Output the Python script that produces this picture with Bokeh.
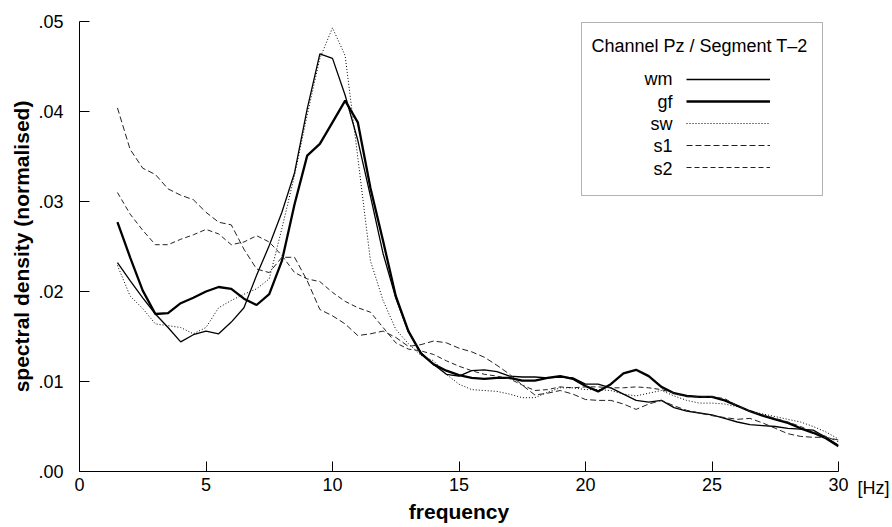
from bokeh.plotting import figure
from bokeh.models import (Legend, LegendItem, Label, BoxAnnotation, LinearAxis,
                          CustomJSTickFormatter, FixedTicker, Range1d)
from bokeh.embed import file_html
from bokeh.resources import INLINE

freq = [1.5, 2.0, 2.5, 3.0, 3.5, 4.0, 4.5, 5.0, 5.5, 6.0, 6.5, 7.0, 7.5, 8.0, 8.5,
        9.0, 9.5, 10.0, 10.5, 11.0, 11.5, 12.0, 12.5, 13.0, 13.5, 14.0, 14.5, 15.0,
        15.5, 16.0, 16.5, 17.0, 17.5, 18.0, 18.5, 19.0, 19.5, 20.0, 20.5, 21.0, 21.5,
        22.0, 22.5, 23.0, 23.5, 24.0, 24.5, 25.0, 25.5, 26.0, 26.5, 27.0, 27.5, 28.0,
        28.5, 29.0, 29.5, 30.0]

wm = [0.0232, 0.0212, 0.0193, 0.0175, 0.0160, 0.0144, 0.0152, 0.0156, 0.0153, 0.0166,
      0.0182, 0.0218, 0.0251, 0.0288, 0.0332, 0.0403, 0.0464, 0.0459, 0.0418, 0.0368,
      0.0306, 0.0242, 0.0193, 0.0155, 0.0132, 0.0119, 0.0108, 0.0106, 0.0112, 0.0113,
      0.0111, 0.0106, 0.0105, 0.0105, 0.0104, 0.0105, 0.0104, 0.0097, 0.0097, 0.0093,
      0.0086, 0.0079, 0.0077, 0.0079, 0.0071, 0.0067, 0.0065, 0.0063, 0.0059, 0.0055,
      0.0052, 0.0051, 0.0050, 0.0048, 0.0047, 0.0046, 0.0038, 0.0029]

gf = [0.0277, 0.0238, 0.0201, 0.0175, 0.0176, 0.0187, 0.0193, 0.0200, 0.0205, 0.0203,
      0.0192, 0.0185, 0.0197, 0.0234, 0.0297, 0.0351, 0.0364, 0.0388, 0.0412, 0.0388,
      0.0315, 0.0256, 0.0195, 0.0156, 0.0131, 0.0119, 0.0112, 0.0107, 0.0104, 0.0103,
      0.0104, 0.0104, 0.0101, 0.0101, 0.0104, 0.0106, 0.0103, 0.0095, 0.0089, 0.0097,
      0.0109, 0.0113, 0.0106, 0.0094, 0.0087, 0.0084, 0.0083, 0.0083, 0.0079, 0.0073,
      0.0067, 0.0062, 0.0058, 0.0054, 0.0048, 0.0043, 0.0037, 0.0028]

sw = [0.0229, 0.0195, 0.0181, 0.0164, 0.0162, 0.0160, 0.0153, 0.0160, 0.0182, 0.0190,
      0.0197, 0.0203, 0.0214, 0.0270, 0.0329, 0.0396, 0.0459, 0.0493, 0.0462, 0.0349,
      0.0234, 0.0190, 0.0158, 0.0142, 0.0129, 0.0123, 0.0108, 0.0097, 0.0091, 0.0090,
      0.0089, 0.0086, 0.0082, 0.0082, 0.0088, 0.0093, 0.0093, 0.0091, 0.0091, 0.0090,
      0.0086, 0.0084, 0.0087, 0.0090, 0.0084, 0.0079, 0.0076, 0.0076, 0.0075, 0.0072,
      0.0067, 0.0064, 0.0061, 0.0058, 0.0055, 0.0050, 0.0044, 0.0036]

s1 = [0.0404, 0.0358, 0.0337, 0.0330, 0.0314, 0.0307, 0.0302, 0.0288, 0.0277, 0.0274,
      0.0247, 0.0225, 0.0221, 0.0238, 0.0238, 0.0212, 0.0180, 0.0173, 0.0164, 0.0151,
      0.0153, 0.0156, 0.0149, 0.0139, 0.0141, 0.0145, 0.0143, 0.0137, 0.0133, 0.0127,
      0.0118, 0.0108, 0.0096, 0.0085, 0.0087, 0.0090, 0.0086, 0.0080, 0.0079, 0.0079,
      0.0075, 0.0069, 0.0075, 0.0079, 0.0073, 0.0068, 0.0065, 0.0062, 0.0060, 0.0058,
      0.0059, 0.0054, 0.0048, 0.0042, 0.0039, 0.0038, 0.0038, 0.0035]

s2 = [0.0310, 0.0286, 0.0268, 0.0252, 0.0252, 0.0258, 0.0263, 0.0269, 0.0264, 0.0252,
      0.0255, 0.0262, 0.0255, 0.0240, 0.0221, 0.0214, 0.0211, 0.0199, 0.0189, 0.0182,
      0.0177, 0.0160, 0.0143, 0.0136, 0.0134, 0.0130, 0.0123, 0.0117, 0.0112, 0.0108,
      0.0106, 0.0103, 0.0096, 0.0090, 0.0091, 0.0094, 0.0093, 0.0094, 0.0094, 0.0093,
      0.0093, 0.0094, 0.0093, 0.0091, 0.0087, 0.0083, 0.0083, 0.0083, 0.0081, 0.0073,
      0.0067, 0.0063, 0.0059, 0.0055, 0.0050, 0.0044, 0.0039, 0.0033]

x_ticks = [0, 5, 10, 15, 20, 25, 30]
y_ticks = [0.0, 0.01, 0.02, 0.03, 0.04, 0.05]
series_names = ["wm", "gf", "sw", "s1", "s2"]
legend_title = "Channel Pz / Segment T\u20132"
x_unit = "[Hz]"

FONT = "Liberation Sans"

p = figure(width=892, height=527, output_backend="svg", toolbar_location=None,
           x_range=Range1d(0, 30), y_range=Range1d(0, 0.05),
           min_border_left=79, min_border_right=52, min_border_top=21, min_border_bottom=56)
p.xgrid.visible = False
p.ygrid.visible = False
p.outline_line_color = None

r_wm = p.line(freq, wm, line_color="black", line_width=1.3)
r_gf = p.line(freq, gf, line_color="black", line_width=2.3)
r_sw = p.line(freq, sw, line_color="black", line_width=1, line_dash="1 2")
r_s1 = p.line(freq, s1, line_color="#222222", line_width=1, line_dash="6 3")
r_s2 = p.line(freq, s2, line_color="#222222", line_width=1, line_dash="5 3")
renderers = [r_wm, r_gf, r_sw, r_s1, r_s2]

for ax in (p.xaxis[0], p.yaxis[0]):
    ax.major_tick_in = 10
    ax.major_tick_out = 0
    ax.minor_tick_in = 0
    ax.minor_tick_out = 0
    ax.axis_line_color = "black"
    ax.major_tick_line_color = "black"
    ax.major_label_text_font = FONT
    ax.major_label_text_font_size = "18px"
    ax.major_label_text_color = "black"
    ax.axis_label_text_font = FONT
    ax.axis_label_text_font_style = "bold"
    ax.axis_label_text_font_size = "21px"
    ax.axis_label_text_color = "black"

p.xaxis.ticker = FixedTicker(ticks=x_ticks)
p.yaxis.ticker = FixedTicker(ticks=y_ticks)
p.yaxis.formatter = CustomJSTickFormatter(code="return tick.toFixed(2).replace('0.', '.');")
p.xaxis.major_label_standoff = 6
p.yaxis.major_label_standoff = 16

p.yaxis.axis_label = "spectral density (normalised)"
p.yaxis.axis_label_standoff = 2
p.xaxis.axis_label = "frequency"
p.xaxis.axis_label_standoff = 6

# unit label "[Hz]" to the right of the last x tick, as an unlined right axis;
# an empty first line pushes it down to the row of the x tick labels
unit_axis = LinearAxis(ticker=FixedTicker(ticks=[0.0]),
                       major_label_overrides={0: "\n" + x_unit},
                       axis_line_color=None, major_tick_line_color=None,
                       minor_tick_line_color=None, major_tick_in=0, major_tick_out=0,
                       major_label_standoff=19, major_label_text_font=FONT,
                       major_label_text_font_size="18px", major_label_text_color="black",
                       major_label_text_line_height=1.65)
p.add_layout(unit_axis, "right")

# legend box
p.add_layout(BoxAnnotation(left=581, right=822, top=22, bottom=195,
                           left_units="canvas", right_units="canvas",
                           top_units="canvas", bottom_units="canvas",
                           fill_color="white", fill_alpha=1.0,
                           line_color="black", line_width=1))
p.add_layout(Label(x=591, y=45, x_units="canvas", y_units="canvas", text=legend_title,
                   text_font=FONT, text_font_size="18px", text_align="left",
                   text_baseline="middle", text_color="black"))
row0 = 78.7
step = 22.4
for i, name in enumerate(series_names):
    p.add_layout(Label(x=672, y=row0 + i * step, x_units="canvas", y_units="canvas",
                       text=name, text_font=FONT, text_font_size="18px",
                       text_align="right", text_baseline="middle", text_color="black"))

legend = Legend(items=[LegendItem(label=" ", renderers=[r]) for r in renderers],
                location=(607, 293), padding=0, spacing=0, margin=0,
                glyph_width=84, glyph_height=22, label_standoff=0, label_width=0,
                label_height=0, label_text_font_size="1px",
                border_line_color=None, background_fill_alpha=0)
p.add_layout(legend)

open("out.html", "w").write(file_html(p, INLINE))
